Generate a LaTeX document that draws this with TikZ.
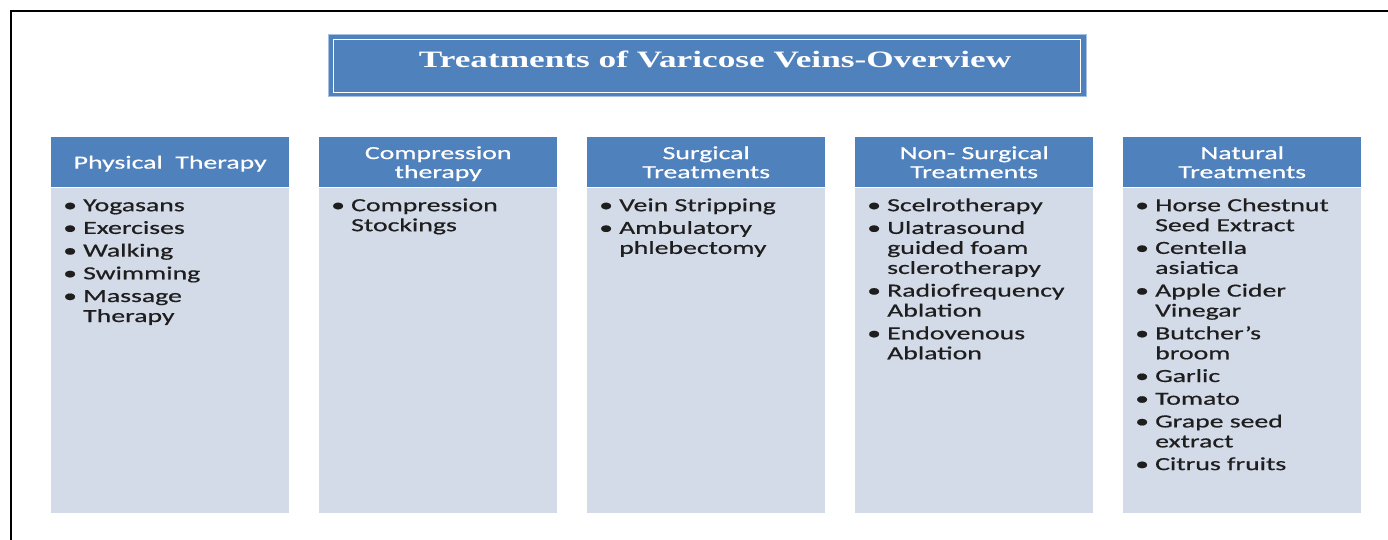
\documentclass[tikz,border=0pt]{standalone}
\usepackage{fontspec}
\usepackage{array}
\setmainfont[FakeStretch=1.5,FakeBold=0.6]{Carlito}
\newfontfamily\titlefont[FakeStretch=1.5]{Liberation Serif}
\usetikzlibrary{positioning}

\definecolor{hdrblue}{HTML}{4F81BD}
\definecolor{panelgrey}{HTML}{D3DAE8}
\definecolor{rimblue}{HTML}{A7C0E2}
\definecolor{inktext}{HTML}{1E1E1E}

% bullet column + text column
\newcommand{\blt}{\textbullet}
\newcommand{\bulletlist}[1]{%
  \begin{tabular}{@{}>{\centering\arraybackslash}p{10pt}@{\hspace{10pt}}l@{}}#1\end{tabular}}

\begin{document}
\begin{tikzpicture}[
    x=1pt, y=-1pt,
    hdr/.style={
        fill=hdrblue,
        text=white,
        anchor=north west,
        minimum width=238pt,
        minimum height=50pt,
        inner sep=0pt,
        text depth=0pt,
        align=center,
        font=\fontsize{18.5}{19}\selectfont
    },
    panel/.style={
        fill=panelgrey,
        anchor=north,
        minimum width=238pt,
        minimum height=325pt,
        inner sep=0pt
    },
    list/.style={
        anchor=north west,
        inner sep=0pt,
        text=inktext,
        font=\fontsize{18.5}{20}\selectfont
    }
]
\useasboundingbox (0,0) rectangle (1388,540);

%---------------------------------
% Frame
%---------------------------------
\draw[line width=2pt] (1388,11) -- (11,11) -- (11,540);

%---------------------------------
% Title
%---------------------------------
\node[fill=hdrblue, draw=rimblue, line width=1pt,
      minimum width=758pt, minimum height=62pt] (title) at (707,66) {};
\draw[white, line width=1.2pt]
    ([shift={(6,5)}]title.north west) rectangle ([shift={(-6,-5)}]title.south east);
\node[anchor=base, text=white, inner sep=0pt,
      font=\titlefont\bfseries\fontsize{23.5}{25}\selectfont] (titletext) at (715,68)
    {Treatments of Varicose Veins-Overview};

%---------------------------------
% Column headers
%---------------------------------
\node[hdr] (h1) at (51,137)   {Physical\ \ Therapy};
\node[hdr] (h2) at (319,137)  {Compression\\therapy};
\node[hdr] (h3) at (587,137)  {Surgical\\Treatments};
\node[hdr] (h4) at (855,137)  {Non- Surgical\\Treatments};
\node[hdr] (h5) at (1123,137) {Natural\\Treatments};

%---------------------------------
% Panels
%---------------------------------
\node[panel] (p1) at (h1.south) {};
\node[panel] (p2) at (h2.south) {};
\node[panel] (p3) at (h3.south) {};
\node[panel] (p4) at (h4.south) {};
\node[panel] (p5) at (h5.south) {};

%---------------------------------
% Bullet lists
%---------------------------------
\node[list] (l1) at (63,197) {\bulletlist{
    \blt & Yogasans\\[2.7pt]
    \blt & Exercises\\[2.7pt]
    \blt & Walking\\[2.7pt]
    \blt & Swimming\\[2.7pt]
    \blt & Massage\\
         & Therapy}};

\node[list] (l2) at (331,197) {\bulletlist{
    \blt & Compression\\
         & Stockings}};

\node[list] (l3) at (599,197) {\bulletlist{
    \blt & Vein Stripping\\[2.7pt]
    \blt & Ambulatory\\
         & phlebectomy}};

\node[list] (l4) at (867,197) {\bulletlist{
    \blt & Scelrotherapy\\[2.7pt]
    \blt & Ulatrasound\\
         & guided foam\\
         & sclerotherapy\\[2.7pt]
    \blt & Radiofrequency\\
         & Ablation\\[2.7pt]
    \blt & Endovenous\\
         & Ablation}};

\node[list] (l5) at (1135,197) {\bulletlist{
    \blt & Horse Chestnut\\
         & Seed Extract\\[2.7pt]
    \blt & Centella\\
         & asiatica\\[2.7pt]
    \blt & Apple Cider\\
         & Vinegar\\[2.7pt]
    \blt & Butcher’s\\
         & broom\\[2.7pt]
    \blt & Garlic\\[2.7pt]
    \blt & Tomato\\[2.7pt]
    \blt & Grape seed\\
         & extract\\[2.7pt]
    \blt & Citrus fruits}};

\end{tikzpicture}
\end{document}
